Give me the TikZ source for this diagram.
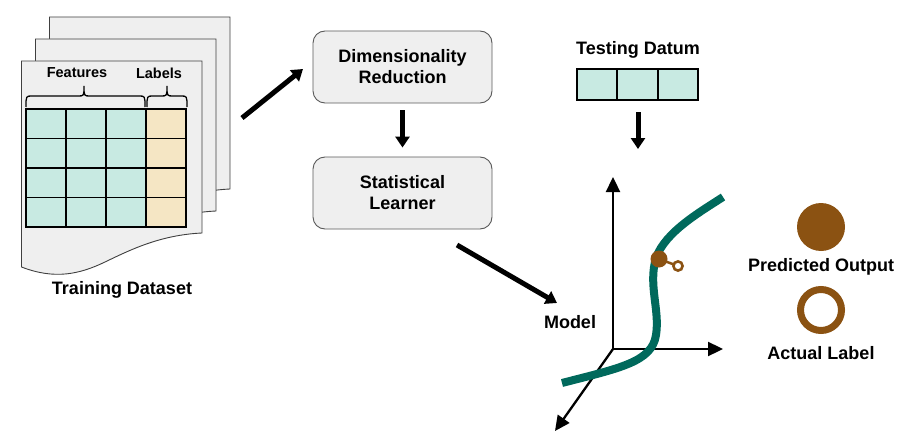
\documentclass[tikz,border=0pt]{standalone}
\usepackage{fontspec}
\setmainfont{Liberation Sans}
\usetikzlibrary{arrows.meta}
\definecolor{teal1}{HTML}{C8EAE2}
\definecolor{beige1}{HTML}{F5E6C4}
\definecolor{pagegray}{HTML}{EFEFEF}
\definecolor{brown1}{HTML}{8B5212}
\definecolor{curvegreen}{HTML}{00695C}
\tikzset{
  page/.style={fill=pagegray,draw=black!75,line width=0.9pt},
  cellf/.style={fill=teal1,draw=black,line width=1.8pt},
  celll/.style={fill=beige1,draw=black,line width=1.8pt},
  procbox/.style={draw=black!65,fill=pagegray,rounded corners=12pt,line width=0.9pt,minimum width=179pt,minimum height=72pt,align=center,font=\bfseries\fontsize{18}{21}\selectfont},
  biglabel/.style={font=\bfseries\fontsize{18}{21}\selectfont,inner sep=0pt},
  smalllabel/.style={font=\bfseries\fontsize{14.5}{17}\selectfont,inner sep=0pt},
  bigarrow/.style={line width=5pt,-{Triangle[length=11pt,width=14pt]}},
  axisarrow/.style={line width=2.3pt,-{Triangle[length=15pt,width=14pt]}},
  bracepath/.style={draw=black,line width=1.3pt},
}
\begin{document}
\begin{tikzpicture}[x=1pt,y=-1pt]
\useasboundingbox (0,0) rectangle (916,444);
% pages
\foreach \dx/\dy in {28/-44,14/-22,0/0}{
  \begin{scope}[shift={(\dx,\dy)}]
  \path[page] (21.5,61) -- (202,61) -- (202,233)
     .. controls (160,235) and (130,250) .. (105,262)
     .. controls (80,274) and (55,280) .. (21.5,267) -- cycle;
  \end{scope}
}
% table
\foreach \r in {0,1,2,3}{
  \foreach \c in {0,1,2}{
    \path[cellf] (26+40*\c,109+29.5*\r) rectangle ++(40,29.5);
  }
  \path[celll] (146,109+29.5*\r) rectangle ++(40,29.5);
}
% braces
\path[bracepath] (26,107) .. controls (26,96) .. (32,96) -- (78,96) .. controls (84,96) .. (84,86)
   .. controls (84,96) .. (90,96) -- (139,96) .. controls (145,96) .. (145,107);
\path[bracepath] (147,107) .. controls (147,96) .. (153,96) -- (161,96) .. controls (167,96) .. (167,86)
   .. controls (167,96) .. (173,96) -- (181,96) .. controls (187,96) .. (187,107);
\node[smalllabel] (feat) at (77,73) {Features};
\node[smalllabel] (labs) at (159,73) {Labels};
\node[biglabel] (train) at (122,290) {Training Dataset};
% process boxes
\node[procbox] (dr) at (402.5,67) {Dimensionality\\Reduction};
\node[procbox] (sl) at (402.5,193) {Statistical\\Learner};
\coordinate (dsout) at (242,118);
\coordinate (drin) at (303,69);
\draw[bigarrow] (dsout) -- (drin);
\draw[bigarrow] ([yshift=-7pt]dr.south) -- ([yshift=9pt]sl.north);
% testing datum
\node[biglabel] (td) at (638,50) {Testing Datum};
\foreach \c in {0,1,2}{
  \path[cellf] (577+40.3*\c,69) rectangle ++(40.3,31);
}
\coordinate (tdout) at (638,112);
\coordinate (tdin) at (638,149);
\draw[bigarrow] (tdout) -- (tdin);
% model arrow
\coordinate (slout) at (457,245);
\coordinate (modelin) at (557,303);
\draw[bigarrow] (slout) -- (modelin);
\node[biglabel] (model) at (570,322) {Model};
% axes
\coordinate (o) at (613,349);
\coordinate (ytip) at (613,177);
\coordinate (xtip) at (723,349);
\coordinate (ztip) at (555,431);
\draw[axisarrow] (o) -- (ytip);
\draw[axisarrow] (o) -- (xtip);
\draw[axisarrow] (o) -- (ztip);
% curve
\draw[curvegreen,line width=8pt] (562,383) .. controls (620,368) and (652,362) .. (656,335)
   .. controls (660,310) and (648,285) .. (656,258)
   .. controls (665,232) and (700,212) .. (723,197);
% predicted / actual on curve
\coordinate (pred) at (659,259);
\coordinate (act) at (678,266);
\draw[brown1,line width=2.5pt] (pred) -- (act);
\fill[brown1] (pred) circle (8.5);
\draw[brown1,line width=2.6pt,fill=white] (act) circle (4.6);
% legend
\fill[brown1] (821,227) circle (24);
\node[biglabel] (predl) at (821,267) {Predicted Output};
\draw[brown1,line width=7pt] (821,310) circle (20.5);
\node[biglabel] (actl) at (821,353) {Actual Label};
\end{tikzpicture}
\end{document}
